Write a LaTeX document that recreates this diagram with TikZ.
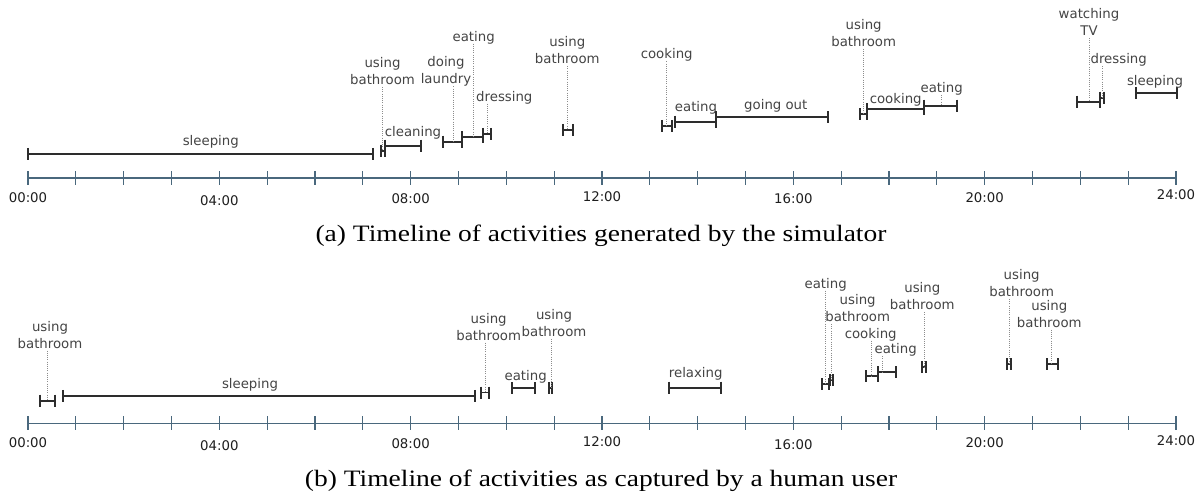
\documentclass[tikz,border=0pt]{standalone}
\usepackage{fontspec}
\usepackage{graphicx}
\setmainfont{Liberation Serif}
\newfontfamily\dejavu{DejaVu Sans}
\usetikzlibrary{calc}

\definecolor{axiscol}{RGB}{74,104,125}
\definecolor{barcol}{RGB}{45,45,45}
\definecolor{labcol}{RGB}{68,68,68}
\definecolor{tickcol}{RGB}{30,30,30}
\definecolor{leadcol}{RGB}{140,140,140}

% two stacked lines, baseline on the lower one
\newcommand\twolines[2]{\begin{tabular}[b]{@{}c@{}}#1\\#2\end{tabular}}

% activity interval: name, start x, end x, row y
\newcommand\actv[4]{%
  \coordinate (#1s) at (#2,#4);
  \coordinate (#1e) at (#3,#4);
  \draw[actbar] (#1s) -- (#1e)
    ([yshift=6pt]#1s) -- ([yshift=-6pt]#1s)
    ([yshift=6pt]#1e) -- ([yshift=-6pt]#1e);}

% dotted leader from a label node down to its interval: label, x, row y
\newcommand\lead[3]{%
  \coordinate (#1p) at (#2,#3);
  \draw[leader] (#1p |- #1.base) ++(0,2.5) -- (#1p);}

% hour axis at height #1, label baselines shifted per label
\newcommand\houraxis[2]{%
  \coordinate (#2l) at (28,#1);
  \coordinate (#2r) at (1176,#1);
  \draw[axisline] (#2l) -- (#2r);
  \foreach \h in {0,...,24}
    \draw[axisline] (28+47.8333*\h,#1-7) -- (28+47.8333*\h,#1+7);
  \foreach \h/\t/\dy in {0/00:00/24.2,4/04:00/27.2,8/08:00/25,12/12:00/23.4,16/16:00/25.7,20/20:00/24.4,24/24:00/21.7}
    \node[ticklbl] (#2\h) at (28+47.8333*\h,#1+\dy) {\t};}

% caption set in a widened serif
\newcommand\captext[1]{\scalebox{1.17}[1]{#1}}

\tikzset{
  actbar/.style={draw=barcol, line width=1.8pt},
  leader/.style={draw=leadcol, line width=0.8pt, dash pattern=on 1pt off 1.2pt},
  lbl/.style={text=labcol, font=\dejavu\fontsize{13.3}{17}\selectfont, inner sep=0pt, anchor=base},
  axisline/.style={draw=axiscol, line width=1.3pt},
  ticklbl/.style={text=tickcol, font=\dejavu\fontsize{13.3}{16}\selectfont, inner sep=0pt, anchor=base},
  captiontext/.style={font=\fontsize{23.5}{28}\selectfont, inner sep=0pt, anchor=base, text=black},
}

\begin{document}
\begin{tikzpicture}[x=1pt,y=-1pt]
\useasboundingbox (0,0) rectangle (1202,492);

% ---------------- (a) simulated day ----------------
\houraxis{178}{ta}

\actv{s1}{28}{373.3}{154}
\node[lbl] (l1) at (210.8,145.4) {sleeping};

\actv{s2}{380.7}{385}{150.7}
\node[lbl] (l2) at (382.5,84.5) {\twolines{using}{bathroom}};
\lead{l2}{382.7}{150.7}

\actv{s3}{385}{421.3}{145.7}
\node[lbl] (l3) at (413,136) {cleaning};

\actv{s4}{443.3}{462}{141.7}
\node[lbl] (l4) at (446,84) {\twolines{doing}{laundry}};
\lead{l4}{453.7}{141.7}

\actv{s5}{462}{483.3}{137.3}
\node[lbl] (l5) at (473.7,41.2) {eating};
\lead{l5}{473.3}{137.3}

\actv{s6}{483.3}{490.7}{134}
\node[lbl] (l6) at (504.3,101.2) {dressing};
\lead{l6}{487.3}{134}

\actv{s7}{562.7}{572.7}{130}
\node[lbl] (l7) at (567.3,63.7) {\twolines{using}{bathroom}};
\lead{l7}{567.3}{130}

\actv{s8}{661.7}{671.7}{126}
\node[lbl] (l8) at (666.7,59) {cooking};
\lead{l8}{666.7}{126}

\actv{s9}{674.7}{715.7}{121.7}
\node[lbl] (l9) at (696,112) {eating};

\actv{s10}{715.7}{828.3}{117.3}
\node[lbl] (l10) at (775.8,109.7) {going out};

\actv{s11}{860.3}{867}{114.3}
\node[lbl] (l11) at (863.7,46.4) {\twolines{using}{bathroom}};
\lead{l11}{863.7}{114.3}

\actv{s12}{867}{924}{109.3}
\node[lbl] (l12) at (895.7,103.7) {cooking};

\actv{s13}{924}{956.7}{105.7}
\node[lbl] (l13) at (941.7,92.5) {eating};
\lead{l13}{941.7}{105.7}

\actv{s14}{1077.3}{1100}{101.7}
\node[lbl] (l14) at (1089,35.5) {\twolines{watching}{TV}};
\lead{l14}{1089}{101.7}

\actv{s15}{1100}{1104.3}{97.7}
\node[lbl] (l15) at (1118.7,63.7) {dressing};
\lead{l15}{1102.7}{97.7}

\actv{s16}{1136}{1176.7}{93.3}
\node[lbl] (l16) at (1155,85.7) {sleeping};

\node[captiontext] (capa) at (601,241.3) {\captext{(a) Timeline of activities generated by the simulator}};

% ---------------- (b) recorded day ----------------
\houraxis{423.3}{ba}

\actv{h1}{40}{55.3}{400.7}
\node[lbl] (m1) at (50,348) {\twolines{using}{bathroom}};
\lead{m1}{47.7}{400.7}

\actv{h2}{63.3}{475}{395.8}
\node[lbl] (m2) at (250,388.5) {sleeping};

\actv{h3}{480.7}{489}{392.5}
\node[lbl] (m3) at (488.7,340) {\twolines{using}{bathroom}};
\lead{m3}{485.3}{392.5}

\actv{h4}{512.3}{535.3}{388.3}
\node[lbl] (m4) at (525.7,380.4) {eating};

\actv{h5}{549.3}{552.3}{388.3}
\node[lbl] (m5) at (554,336.4) {\twolines{using}{bathroom}};
\lead{m5}{551}{388.3}

\actv{h6}{669}{721}{387.7}
\node[lbl] (m6) at (695.7,377.7) {relaxing};

\actv{h7}{822.3}{828.7}{384.3}
\node[lbl] (m7) at (825.7,288) {eating};
\lead{m7}{825}{384.3}

\actv{h8}{830}{832.7}{380}
\node[lbl] (m8) at (857.7,321.4) {\twolines{using}{bathroom}};
\lead{m8}{831.7}{380}

\actv{h9}{866}{877.7}{376}
\node[lbl] (m9) at (870.7,338) {cooking};
\lead{m9}{871.7}{376}

\actv{h10}{877.7}{896}{372}
\node[lbl] (m10) at (895.7,353.7) {eating};
\lead{m10}{882.7}{372}

\actv{h11}{921.7}{926.3}{367.3}
\node[lbl] (m11) at (922.3,309.7) {\twolines{using}{bathroom}};
\lead{m11}{924}{367.3}

\actv{h12}{1007.3}{1011.3}{364}
\node[lbl] (m12) at (1021.7,296.4) {\twolines{using}{bathroom}};
\lead{m12}{1009.3}{364}

\actv{h13}{1046.7}{1058.3}{364}
\node[lbl] (m13) at (1049.3,327) {\twolines{using}{bathroom}};
\lead{m13}{1051.7}{364}

\node[captiontext] (capb) at (601,486.5) {\captext{(b) Timeline of activities as captured by a human user}};
\end{tikzpicture}
\end{document}
